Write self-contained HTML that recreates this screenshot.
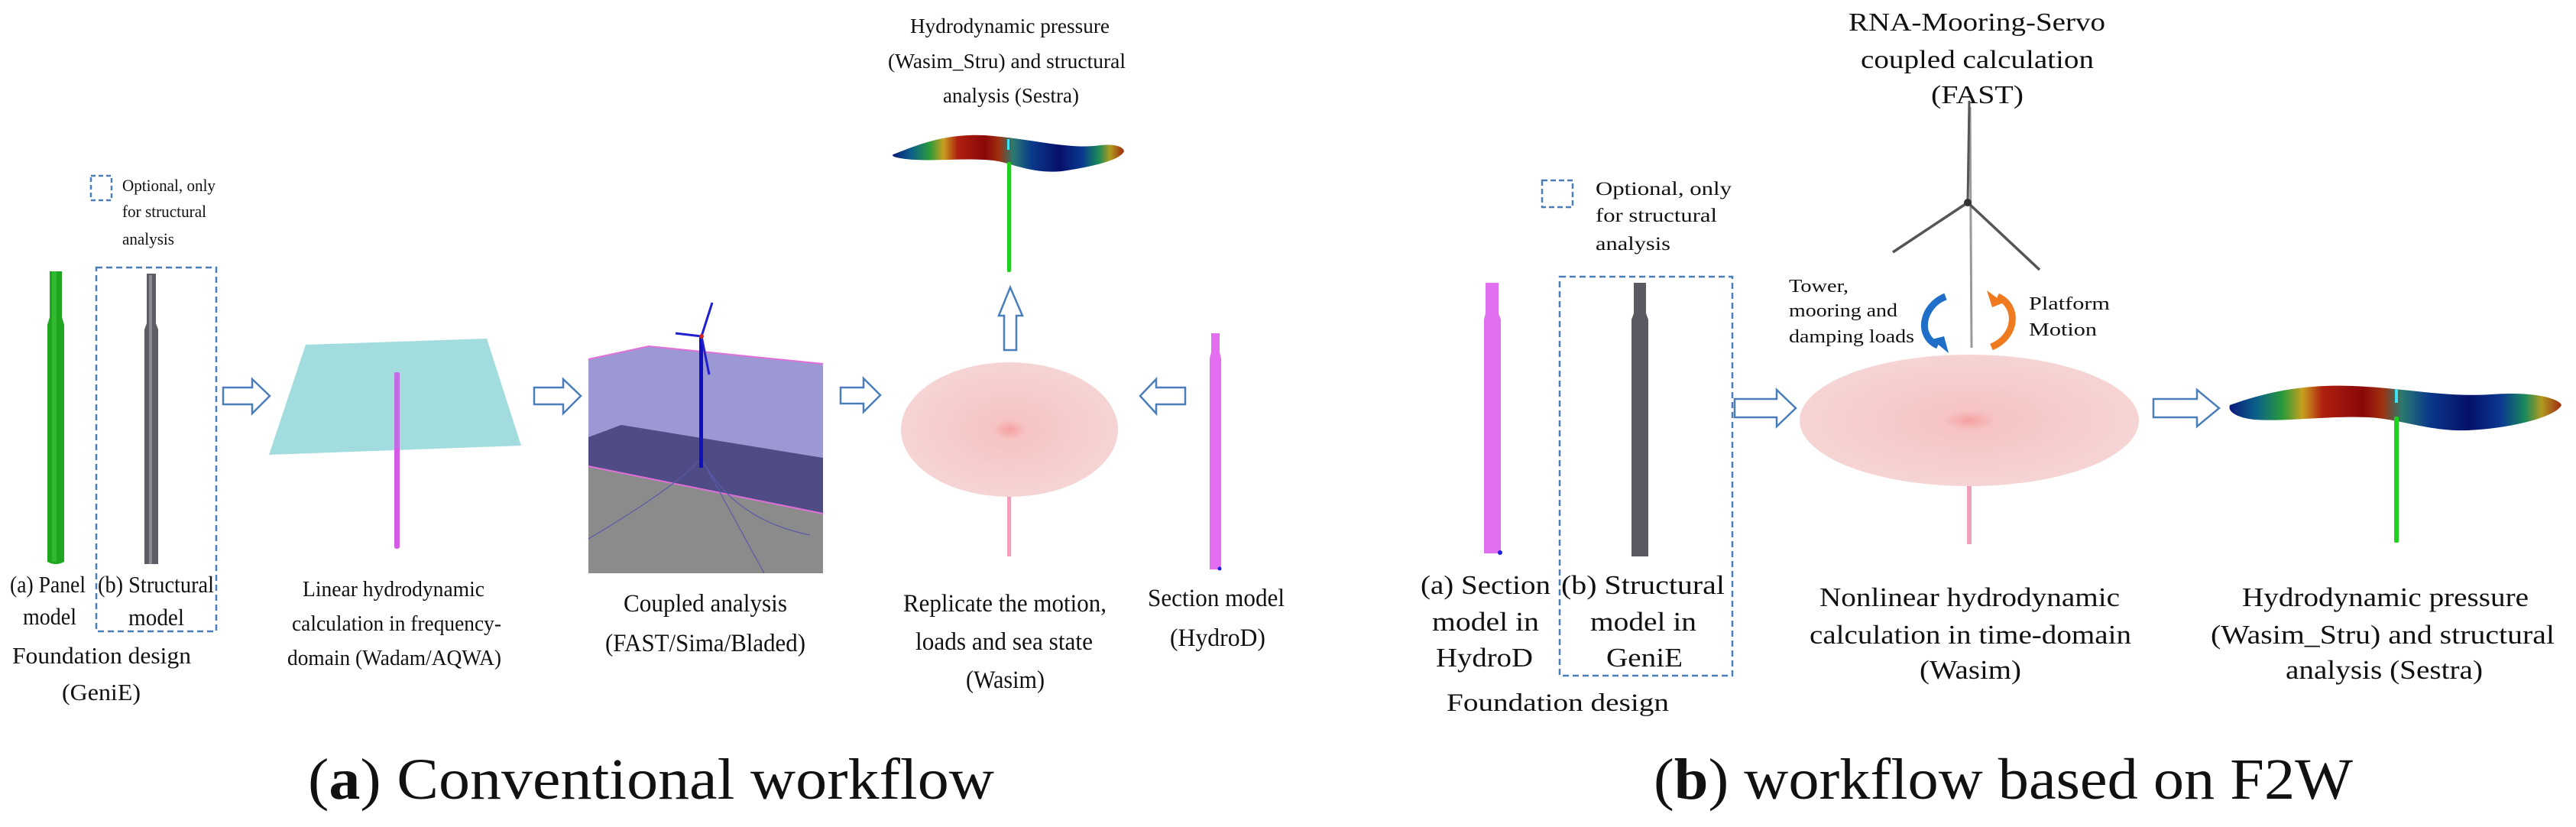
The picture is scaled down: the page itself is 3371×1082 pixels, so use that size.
<!DOCTYPE html>
<html><head><meta charset="utf-8"><style>
html,body{margin:0;padding:0;background:#fff;}
svg{display:block;}
text{font-family:"Liberation Serif",serif !important;fill:#111;}
</style></head><body>
<svg width="3371" height="1082" viewBox="0 0 3371 1082" xmlns="http://www.w3.org/2000/svg">
<defs>
<linearGradient id="cmap" x1="0" x2="1" y1="0" y2="0">
<stop offset="0" stop-color="#0a1a7a"/><stop offset="0.08" stop-color="#0b5f8a"/>
<stop offset="0.16" stop-color="#2a9a3a"/><stop offset="0.22" stop-color="#c8a020"/>
<stop offset="0.28" stop-color="#b02010"/><stop offset="0.40" stop-color="#8a0808"/>
<stop offset="0.46" stop-color="#a03010"/><stop offset="0.52" stop-color="#2a7a70"/>
<stop offset="0.60" stop-color="#0a3a8a"/><stop offset="0.72" stop-color="#06106a"/>
<stop offset="0.82" stop-color="#0a3a90"/><stop offset="0.89" stop-color="#1a8a5a"/>
<stop offset="0.94" stop-color="#b09a20"/><stop offset="1" stop-color="#a02a10"/>
</linearGradient>
<radialGradient id="ell" cx="0.5" cy="0.5" r="0.5">
<stop offset="0" stop-color="#f7a0a0"/><stop offset="0.15" stop-color="#f6c4c4"/><stop offset="1" stop-color="#f6d4d4"/>
</radialGradient>
</defs>

<rect x="119" y="230" width="27" height="32" fill="none" stroke="#4a7ebb" stroke-width="2.5" stroke-dasharray="6,4"/>
<text x="160" y="250" font-size="22" textLength="122" lengthAdjust="spacingAndGlyphs">Optional, only</text>
<text x="160" y="284" font-size="22" textLength="110" lengthAdjust="spacingAndGlyphs">for structural</text>
<text x="160" y="320" font-size="22" textLength="68" lengthAdjust="spacingAndGlyphs">analysis</text>

<path d="M65 355 h16 v60 l3 10 v310 q-11 6 -22 0 v-310 l3 -10 z" fill="#1fa51f"/>
<rect x="68" y="355" width="6" height="380" fill="#3cc83c" opacity="0.6"/>
<rect x="126" y="350" width="157" height="476" fill="none" stroke="#4a7ebb" stroke-width="2.5" stroke-dasharray="8,5"/>
<path d="M192 358 h12 v65 l3 8 v307 h-18 v-307 l3 -8 z" fill="#5d5d66"/>
<rect x="195" y="360" width="4" height="378" fill="#8a8a94"/>

<text x="13" y="775" font-size="31" textLength="99" lengthAdjust="spacingAndGlyphs">(a) Panel</text>
<text x="128" y="775" font-size="31" textLength="152" lengthAdjust="spacingAndGlyphs">(b) Structural</text>
<text x="30" y="817" font-size="31" textLength="70" lengthAdjust="spacingAndGlyphs">model</text>
<text x="168" y="818" font-size="31" textLength="73" lengthAdjust="spacingAndGlyphs">model</text>
<text x="16" y="868" font-size="31" textLength="234" lengthAdjust="spacingAndGlyphs">Foundation design</text>
<text x="81" y="916" font-size="31" textLength="103" lengthAdjust="spacingAndGlyphs">(GeniE)</text>

<polygon points="292,507 330,507 330,496 353,518 330,541 330,529 292,529" fill="#fff" stroke="#4a7ebb" stroke-width="2.5"/>

<polygon points="400,451 637,443 682,583 352,595" fill="#a3dcdf"/>
<rect x="516" y="487" width="7" height="231" rx="3" fill="#d65ae8"/>
<rect x="516" y="487" width="7" height="100" fill="#b07ae0" opacity="0.5"/>

<text x="396" y="780" font-size="29" textLength="238" lengthAdjust="spacingAndGlyphs">Linear hydrodynamic</text>
<text x="382" y="825" font-size="29" textLength="274" lengthAdjust="spacingAndGlyphs">calculation in frequency-</text>
<text x="376" y="870" font-size="29" textLength="280" lengthAdjust="spacingAndGlyphs">domain (Wadam/AQWA)</text>

<polygon points="699,507 737,507 737,496 760,518 737,541 737,529 699,529" fill="#fff" stroke="#4a7ebb" stroke-width="2.5"/>

<rect x="770" y="453" width="307" height="297" fill="#fff"/>
<polygon points="770,470 849,453 1077,476 1077,750 770,750" fill="#9c98d3"/>
<polygon points="770,572 813,556 1077,599 1077,672 770,610" fill="#4e4b85"/>
<polygon points="770,610 1077,672 1077,750 770,750" fill="#8b8b8b"/>
<polyline points="770,470 849,453 1077,476" fill="none" stroke="#e070d8" stroke-width="2"/>
<line x1="770" y1="610" x2="1077" y2="672" stroke="#e070d8" stroke-width="2"/>
<path d="M770 705 Q880 640 918 600 M918 600 Q960 680 1060 700 M918 600 L1000 750" fill="none" stroke="#5a5aa8" stroke-width="1.2"/>
<rect x="915" y="440" width="5" height="172" fill="#1010c0"/>
<line x1="918" y1="440" x2="932" y2="396" stroke="#2020d0" stroke-width="3"/>
<line x1="918" y1="440" x2="884" y2="436" stroke="#2020d0" stroke-width="3"/>
<line x1="918" y1="440" x2="928" y2="490" stroke="#2020d0" stroke-width="3"/>
<circle cx="918" cy="440" r="3" fill="#d02020"/>

<text x="816" y="800" font-size="33" textLength="214" lengthAdjust="spacingAndGlyphs">Coupled analysis</text>
<text x="792" y="852" font-size="33" textLength="262" lengthAdjust="spacingAndGlyphs">(FAST/Sima/Bladed)</text>

<polygon points="1100,507 1130,507 1130,495 1152,517 1130,539 1130,528 1100,528" fill="#fff" stroke="#4a7ebb" stroke-width="2.5"/>

<ellipse cx="1321" cy="562" rx="142" ry="88" fill="url(#ell)"/>
<rect x="1318" y="650" width="5" height="78" fill="#f0a0b8"/>

<polygon points="1314,458 1314,413 1307,413 1322,376 1338,413 1330,413 1330,458" fill="#fff" stroke="#4a7ebb" stroke-width="2.5"/>

<path d="M1169 202 C1200 190 1240 172 1300 178 C1350 182 1400 196 1440 190 C1460 188 1470 192 1471 198 C1465 210 1430 218 1390 224 C1350 228 1320 212 1300 210 C1260 206 1220 212 1185 208 C1170 206 1166 204 1169 202 Z" fill="url(#cmap)"/>
<rect x="1318" y="182" width="3" height="14" fill="#40e0f0"/>
<rect x="1318" y="212" width="5" height="144" rx="2" fill="#20d020"/>

<text x="1191" y="43" font-size="27" textLength="261" lengthAdjust="spacingAndGlyphs">Hydrodynamic pressure</text>
<text x="1162" y="89" font-size="27" textLength="311" lengthAdjust="spacingAndGlyphs">(Wasim_Stru) and structural</text>
<text x="1234" y="134" font-size="27" textLength="178" lengthAdjust="spacingAndGlyphs">analysis (Sestra)</text>

<polygon points="1551,507 1513,507 1513,496 1492,518 1513,541 1513,529 1551,529" fill="#fff" stroke="#4a7ebb" stroke-width="2.5"/>

<path d="M1585 436 h11 v25 l2 8 v276 h-15 v-276 l2 -8 z" fill="#e46cf0"/>
<circle cx="1596" cy="744" r="2.5" fill="#2020e0"/>

<text x="1182" y="800" font-size="33" textLength="266" lengthAdjust="spacingAndGlyphs">Replicate the motion,</text>
<text x="1198" y="850" font-size="33" textLength="232" lengthAdjust="spacingAndGlyphs">loads and sea state</text>
<text x="1264" y="900" font-size="33" textLength="103" lengthAdjust="spacingAndGlyphs">(Wasim)</text>
<text x="1502" y="793" font-size="33" textLength="179" lengthAdjust="spacingAndGlyphs">Section model</text>
<text x="1531" y="845" font-size="33" textLength="125" lengthAdjust="spacingAndGlyphs">(HydroD)</text>

<text x="403" y="1045" font-size="76" textLength="898" lengthAdjust="spacingAndGlyphs">(<tspan font-weight="bold">a</tspan>) Conventional workflow</text>

<text x="2419" y="40" font-size="34" textLength="336" lengthAdjust="spacingAndGlyphs">RNA-Mooring-Servo</text>
<text x="2435" y="89" font-size="34" textLength="305" lengthAdjust="spacingAndGlyphs">coupled calculation</text>
<text x="2527" y="135" font-size="34" textLength="121" lengthAdjust="spacingAndGlyphs">(FAST)</text>

<line x1="2578" y1="140" x2="2580" y2="455" stroke="#9a9a9a" stroke-width="3"/>
<line x1="2575" y1="265" x2="2577" y2="132" stroke="#555" stroke-width="3"/>
<line x1="2575" y1="265" x2="2477" y2="330" stroke="#555" stroke-width="3.5"/>
<line x1="2575" y1="265" x2="2669" y2="353" stroke="#555" stroke-width="3.5"/>
<circle cx="2575" cy="265" r="5" fill="#333"/>

<rect x="2018" y="236" width="40" height="35" fill="none" stroke="#4a7ebb" stroke-width="2.5" stroke-dasharray="7,4"/>
<text x="2088" y="255" font-size="25" textLength="178" lengthAdjust="spacingAndGlyphs">Optional, only</text>
<text x="2088" y="290" font-size="25" textLength="159" lengthAdjust="spacingAndGlyphs">for structural</text>
<text x="2088" y="327" font-size="25" textLength="98" lengthAdjust="spacingAndGlyphs">analysis</text>

<path d="M1944 370 h17 v40 l3 8 v306 h-22 v-306 l2 -8 z" fill="#e070f0"/>
<circle cx="1963" cy="723" r="3" fill="#2020e0"/>
<rect x="2041" y="362" width="226" height="522" fill="none" stroke="#4a7ebb" stroke-width="2.5" stroke-dasharray="8,5"/>
<path d="M2138 370 h16 v40 l3 8 v310 h-22 v-310 l3 -8 z" fill="#5a5a62"/>

<text x="1859" y="777" font-size="35" textLength="170" lengthAdjust="spacingAndGlyphs">(a) Section</text>
<text x="2043" y="777" font-size="35" textLength="214" lengthAdjust="spacingAndGlyphs">(b) Structural</text>
<text x="1874" y="825" font-size="35" textLength="140" lengthAdjust="spacingAndGlyphs">model in</text>
<text x="2081" y="825" font-size="35" textLength="139" lengthAdjust="spacingAndGlyphs">model in</text>
<text x="1879" y="872" font-size="35" textLength="127" lengthAdjust="spacingAndGlyphs">HydroD</text>
<text x="2102" y="872" font-size="35" textLength="100" lengthAdjust="spacingAndGlyphs">GeniE</text>
<text x="1893" y="930" font-size="33" textLength="291" lengthAdjust="spacingAndGlyphs">Foundation design</text>

<polygon points="2270,522 2325,522 2325,510 2350,534 2325,558 2325,546 2270,546" fill="#fff" stroke="#4a7ebb" stroke-width="2.5"/>

<ellipse cx="2577" cy="550" rx="222" ry="86" fill="url(#ell)"/>
<rect x="2574" y="636" width="6" height="76" fill="#f0a0b8"/>

<path d="M2546 388 C2515 400 2508 440 2536 452" fill="none" stroke="#1f6fc8" stroke-width="9"/>
<polygon points="2528,444 2550,462 2544,440" fill="#1f6fc8"/>
<path d="M2606 454 C2640 440 2642 400 2614 388" fill="none" stroke="#f07a20" stroke-width="9"/>
<polygon points="2622,396 2600,380 2607,402" fill="#f07a20"/>

<text x="2341" y="382" font-size="24" textLength="78" lengthAdjust="spacingAndGlyphs">Tower,</text>
<text x="2341" y="414" font-size="24" textLength="142" lengthAdjust="spacingAndGlyphs">mooring and</text>
<text x="2341" y="448" font-size="24" textLength="164" lengthAdjust="spacingAndGlyphs">damping loads</text>
<text x="2655" y="405" font-size="24" textLength="106" lengthAdjust="spacingAndGlyphs">Platform</text>
<text x="2655" y="439" font-size="24" textLength="89" lengthAdjust="spacingAndGlyphs">Motion</text>

<polygon points="2818,522 2875,522 2875,510 2904,534 2875,558 2875,546 2818,546" fill="#fff" stroke="#4a7ebb" stroke-width="2.5"/>

<path d="M2918 530 C2960 515 3010 502 3080 505 C3150 508 3200 520 3260 516 C3310 512 3348 520 3352 530 C3345 545 3290 560 3230 563 C3180 565 3140 548 3100 546 C3040 544 2990 552 2950 549 C2925 546 2915 538 2918 530 Z" fill="url(#cmap)"/>
<rect x="3134" y="509" width="4" height="18" fill="#40e0f0"/>
<rect x="3133" y="545" width="6" height="165" rx="2" fill="#20d020"/>

<text x="2381" y="793" font-size="35" textLength="393" lengthAdjust="spacingAndGlyphs">Nonlinear hydrodynamic</text>
<text x="2368" y="842" font-size="35" textLength="421" lengthAdjust="spacingAndGlyphs">calculation in time-domain</text>
<text x="2512" y="888" font-size="35" textLength="133" lengthAdjust="spacingAndGlyphs">(Wasim)</text>
<text x="2934" y="793" font-size="35" textLength="375" lengthAdjust="spacingAndGlyphs">Hydrodynamic pressure</text>
<text x="2893" y="842" font-size="35" textLength="450" lengthAdjust="spacingAndGlyphs">(Wasim_Stru) and structural</text>
<text x="2991" y="888" font-size="35" textLength="258" lengthAdjust="spacingAndGlyphs">analysis (Sestra)</text>

<text x="2164" y="1045" font-size="76" textLength="915" lengthAdjust="spacingAndGlyphs">(<tspan font-weight="bold">b</tspan>) workflow based on F2W</text>
</svg>
</body></html>
